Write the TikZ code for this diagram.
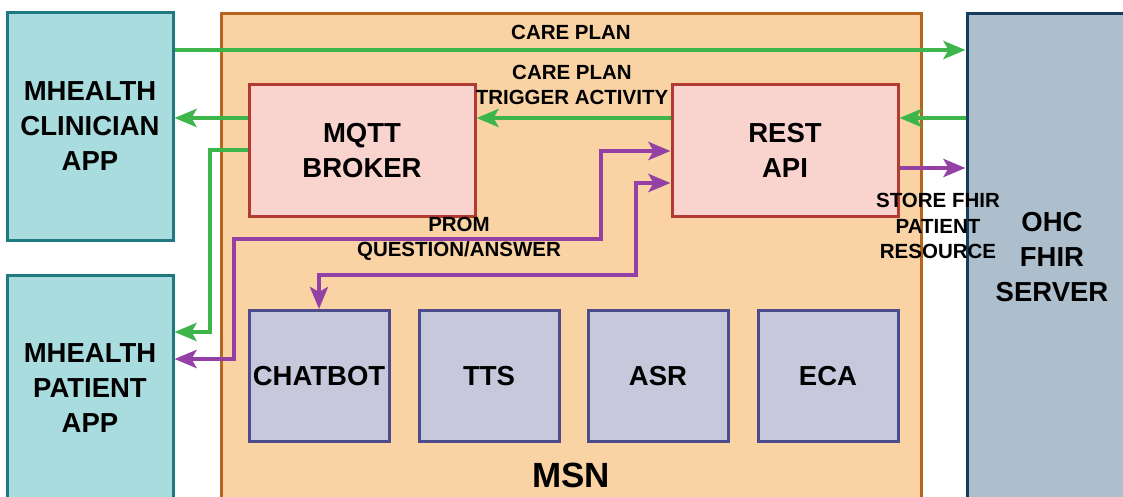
\documentclass[tikz,border=0pt]{standalone}
\usepackage{fontspec}
\setmainfont{Liberation Sans}
\usetikzlibrary{arrows.meta}
\definecolor{appfill}{HTML}{A8DCDF}
\definecolor{appdraw}{HTML}{1E7A80}
\definecolor{msnfill}{HTML}{FAD3A5}
\definecolor{msndraw}{HTML}{B5651D}
\definecolor{brkfill}{HTML}{F9D3CD}
\definecolor{brkdraw}{HTML}{B23A30}
\definecolor{modfill}{HTML}{C8C8DC}
\definecolor{moddraw}{HTML}{4C4C8C}
\definecolor{srvfill}{HTML}{ADBFCD}
\definecolor{srvdraw}{HTML}{163C5E}
\definecolor{lgreen}{HTML}{3DB54A}
\definecolor{lpurple}{HTML}{9440A4}
\tikzset{
  box/.style={rectangle, line width=3pt, inner sep=0pt, align=center,
    font=\fontsize{27.5}{35}\selectfont\bfseries},
  appbox/.style={box, fill=appfill, draw=appdraw},
  msnbox/.style={box, fill=msnfill, draw=msndraw},
  brkbox/.style={box, fill=brkfill, draw=brkdraw},
  modbox/.style={box, fill=modfill, draw=moddraw},
  srvbox/.style={box, fill=srvfill, draw=srvdraw},
  lbl/.style={align=center, inner sep=0pt, font=\fontsize{20.5}{25.5}\selectfont\bfseries},
  gline/.style={draw=lgreen, line width=4.2pt},
  pline/.style={draw=lpurple, line width=4.2pt},
  tip/.tip={Stealth[length=22pt, width=18pt, inset=5pt]},
}
\begin{document}
\begin{tikzpicture}[x=1pt, y=-1pt]
\clip (0,0) rectangle (1123,497);
\fill[white] (0,0) rectangle (1123,497);
% containers
\node[msnbox, minimum width=700pt, minimum height=500pt] (msn) at (571,264) {};
\node[appbox, minimum width=166pt, minimum height=227pt, text depth=-4pt] (clin) at (90,126.5) {MHEALTH\\CLINICIAN\\APP};
\node[appbox, minimum width=166pt, minimum height=226pt] (pat) at (90,388) {MHEALTH\\PATIENT\\APP};
\node[srvbox, minimum width=170pt, minimum height=486pt] (ohc) at (1052,257) {OHC\\FHIR\\SERVER};
% inner boxes
\node[brkbox, minimum width=226pt, minimum height=131pt] (mqtt) at (362,150.5) {MQTT\\BROKER};
\node[brkbox, minimum width=226pt, minimum height=131pt] (rest) at (785,150.5) {REST\\API};
\node[modbox, minimum width=140pt, minimum height=131pt] (chat) at (319,376) {CHATBOT};
\node[modbox, minimum width=140pt, minimum height=131pt] (tts) at (489,376) {TTS};
\node[modbox, minimum width=140pt, minimum height=131pt] (asr) at (658,376) {ASR};
\node[modbox, minimum width=140pt, minimum height=131pt] (eca) at (828,376) {ECA};
% green connectors
\draw[gline, -tip] (clin.east |- 0,50) -- (ohc.west |- 0,50);
\draw[gline, -tip] (rest.west |- 0,118) -- (mqtt.east |- 0,118);
\draw[gline, -tip] (mqtt.west |- 0,118) -- (clin.east |- 0,118);
\draw[gline, -tip] (ohc.west |- 0,118) -- (rest.east |- 0,118);
\draw[gline, -tip, line join=miter] (mqtt.west |- 0,150) -- (210,150) -- (210,332) -- (pat.east |- 0,332);
% purple connectors
\draw[pline, -tip] (rest.east |- 0,168) -- (ohc.west |- 0,168);
\draw[pline, tip-tip, line join=miter] (pat.east |- 0,359) -- (234,359) -- (234,239) -- (601,239) -- (601,151) -- (rest.west |- 0,151);
\draw[pline, tip-tip, line join=miter] (rest.west |- 0,183) -- (636,183) -- (636,275) -- (319,275) -- (chat.north);
% labels
\node[lbl] (l1) at (571,32) {CARE PLAN};
\node[lbl] (l2) at (572,85) {CARE PLAN\\TRIGGER ACTIVITY};
\node[lbl] (l3) at (459,239) {PROM\\QUESTION/ANSWER};
\node[lbl] (l4) at (938,226) {STORE FHIR\\PATIENT\\RESOURCE};
\node[font=\fontsize{35}{40}\selectfont\bfseries, inner sep=0pt] (msnl) at (571,475) {MSN};
\end{tikzpicture}
\end{document}
